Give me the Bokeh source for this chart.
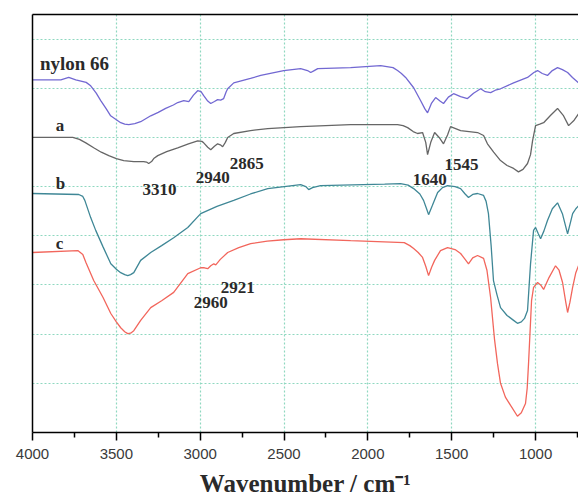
from bokeh.plotting import figure
from bokeh.models import Range1d, FixedTicker, LinearAxis, Label
from bokeh.embed import file_html
from bokeh.resources import INLINE

# ---------------- data ----------------
nylon_wn = [4000, 3831, 3784, 3742, 3680, 3653, 3620, 3593, 3560, 3534, 3500, 3474, 3450, 3426, 3390,
            3355, 3295, 3250, 3206, 3160, 3134, 3098, 3068, 3040, 3015, 2995, 2979, 2955, 2937, 2915,
            2896, 2878, 2860, 2845, 2836, 2800, 2700, 2639, 2502, 2401, 2360, 2341, 2320, 2299, 2200,
            2103, 1924, 1850, 1823, 1800, 1775, 1727, 1686, 1660, 1644, 1620, 1596, 1570, 1549, 1520,
            1489, 1447, 1406, 1370, 1328, 1300, 1268, 1240, 1209, 1131, 1048, 1010, 988, 960, 929,
            900, 869, 840, 809, 780, 744]
nylon_t = [7.17, 7.17, 7.22, 7.17, 7.12, 7.05, 6.90, 6.75, 6.58, 6.44, 6.36, 6.30, 6.27, 6.26, 6.28,
           6.32, 6.44, 6.51, 6.59, 6.66, 6.71, 6.75, 6.73, 6.86, 6.95, 6.93, 6.85, 6.74, 6.69, 6.73,
           6.77, 6.76, 6.79, 6.93, 6.99, 7.11, 7.20, 7.26, 7.36, 7.40, 7.36, 7.32, 7.36, 7.40, 7.41,
           7.42, 7.46, 7.42, 7.36, 7.30, 7.22, 7.01, 6.75, 6.58, 6.50, 6.70, 6.81, 6.74, 6.69, 6.82,
           6.89, 6.83, 6.79, 6.90, 6.99, 6.93, 6.91, 6.96, 6.99, 7.11, 7.22, 7.32, 7.36, 7.30, 7.26,
           7.36, 7.42, 7.38, 7.32, 7.22, 7.11]

a_wn = [4000, 3760, 3720, 3682, 3635, 3590, 3545, 3500, 3456, 3396, 3337, 3320, 3307, 3290, 3277,
        3253, 3200, 3134, 3070, 3015, 2990, 2979, 2955, 2937, 2915, 2896, 2880, 2866, 2850, 2836,
        2800, 2700, 2597, 2401, 2103, 1823, 1790, 1763, 1730, 1704, 1674, 1655, 1644, 1625, 1602,
        1575, 1549, 1525, 1507, 1447, 1346, 1310, 1287, 1250, 1209, 1170, 1131, 1102, 1075, 1048,
        1030, 1018, 1000, 975, 952, 910, 869, 835, 803, 770, 744]
a_t = [6.00, 6.00, 5.96, 5.89, 5.79, 5.70, 5.63, 5.57, 5.53, 5.51, 5.51, 5.50, 5.47, 5.51, 5.57,
       5.63, 5.71, 5.79, 5.87, 5.93, 5.92, 5.89, 5.80, 5.75, 5.82, 5.87, 5.85, 5.81, 5.90, 6.00,
       6.08, 6.14, 6.18, 6.22, 6.26, 6.26, 6.24, 6.20, 6.12, 6.08, 6.10, 5.90, 5.65, 5.90, 6.10,
       6.00, 5.87, 6.05, 6.22, 6.14, 6.10, 6.04, 5.87, 5.70, 5.53, 5.43, 5.37, 5.30, 5.35, 5.47,
       5.65, 5.93, 6.24, 6.27, 6.30, 6.45, 6.59, 6.45, 6.24, 6.35, 6.48]

b_wn = [4000, 3724, 3700, 3688, 3653, 3623, 3580, 3533, 3500, 3474, 3450, 3432, 3415, 3396, 3355,
        3295, 3230, 3158, 3074, 2997, 2900, 2800, 2700, 2597, 2401, 2370, 2353, 2330, 2282, 1900,
        1805, 1760, 1727, 1690, 1668, 1650, 1638, 1615, 1584, 1555, 1525, 1480, 1447, 1420, 1400,
        1375, 1346, 1310, 1295, 1281, 1265, 1251, 1230, 1209, 1170, 1131, 1108, 1085, 1066, 1048,
        1040, 1030, 1012, 1000, 985, 970, 950, 929, 900, 869, 840, 809, 790, 779, 760, 744]
b_t = [4.86, 4.84, 4.80, 4.72, 4.37, 4.11, 3.78, 3.43, 3.32, 3.25, 3.21, 3.19, 3.21, 3.25, 3.50,
       3.66, 3.80, 3.96, 4.17, 4.45, 4.60, 4.72, 4.85, 4.96, 5.04, 5.00, 4.94, 4.98, 5.02, 5.05,
       5.06, 5.03, 4.96, 4.85, 4.72, 4.55, 4.43, 4.62, 4.88, 4.98, 5.02, 5.00, 4.96, 4.85, 4.78,
       4.84, 4.86, 4.82, 4.70, 4.45, 3.80, 3.09, 2.80, 2.54, 2.38, 2.28, 2.22, 2.25, 2.32, 2.48,
       2.90, 3.43, 4.11, 4.17, 4.05, 3.94, 4.10, 4.31, 4.55, 4.67, 4.45, 4.04, 4.30, 4.45, 4.55,
       4.61]

c_wn = [4000, 3730, 3700, 3682, 3635, 3580, 3533, 3500, 3474, 3450, 3432, 3415, 3396, 3355, 3295,
        3230, 3158, 3074, 2997, 2975, 2955, 2937, 2919, 2907, 2880, 2836, 2770, 2699, 2600, 2502,
        2401, 2103, 1783, 1750, 1727, 1700, 1674, 1655, 1638, 1620, 1602, 1567, 1525, 1480, 1447,
        1420, 1400, 1375, 1346, 1310, 1290, 1268, 1245, 1227, 1209, 1180, 1149, 1108, 1085, 1060,
        1050, 1042, 1024, 1012, 988, 970, 952, 920, 881, 860, 839, 820, 809, 795, 779, 760, 744]
c_t = [3.66, 3.70, 3.62, 3.46, 3.09, 2.75, 2.42, 2.25, 2.13, 2.05, 2.01, 2.02, 2.07, 2.28, 2.54,
       2.68, 2.85, 3.23, 3.35, 3.35, 3.33, 3.39, 3.43, 3.41, 3.52, 3.66, 3.76, 3.84, 3.89, 3.92,
       3.94, 3.90, 3.86, 3.80, 3.74, 3.66, 3.56, 3.38, 3.19, 3.36, 3.50, 3.70, 3.76, 3.72, 3.64,
       3.52, 3.43, 3.55, 3.60, 3.54, 3.30, 2.74, 1.90, 1.40, 1.00, 0.72, 0.55, 0.33, 0.40, 0.59,
       0.90, 1.40, 2.68, 2.95, 3.05, 3.00, 2.91, 3.15, 3.39, 3.30, 3.05, 2.65, 2.44, 2.65, 2.95,
       3.25, 3.39]

x_ticks = [4000, 3500, 3000, 2500, 2000, 1500, 1000]
x_minor = [3750, 3250, 2750, 2250, 1750, 1250, 750]
y_grid = [1, 2, 3, 4, 5, 6, 7, 8]
x_title = "Wavenumber / cm\u207b\u00b9"

series_names = ["nylon 66", "a", "b", "c"]
peak_texts = ["3310", "2940", "2865", "1640", "1545", "2921", "2960"]
peak_x = [3344, 3027, 2824, 1733, 1543, 2878, 3039]
peak_y = [4.95, 5.18, 5.48, 5.14, 5.45, 2.95, 2.64]
name_x = [3956, 3861, 3861, 3861]
name_y = [7.50, 6.24, 5.06, 3.84]

# ---------------- figure ----------------
p = figure(width=578, height=502, output_backend="svg", toolbar_location=None,
           x_range=Range1d(4000, 744), y_range=Range1d(0, 8.5),
           x_axis_location=None, y_axis_location=None,
           min_border_left=32, min_border_right=0, min_border_top=14, min_border_bottom=70)
p.outline_line_color = None
p.background_fill_color = "white"
p.border_fill_color = "white"

# bottom axis
xa = LinearAxis(ticker=FixedTicker(ticks=x_ticks, minor_ticks=x_minor))
xa.axis_line_color = "black"
xa.axis_line_width = 1.5
xa.major_tick_line_color = "black"
xa.major_tick_line_width = 1.5
xa.major_tick_out = 8
xa.major_tick_in = 0
xa.minor_tick_line_color = "black"
xa.minor_tick_line_width = 1.5
xa.minor_tick_out = 5
xa.minor_tick_in = 0
xa.major_label_text_font = "Liberation Sans"
xa.major_label_text_font_size = "15px"
xa.major_label_text_color = "#3a3a3a"
xa.major_label_standoff = 8
xa.axis_label = x_title
xa.axis_label_text_font = "Liberation Serif"
xa.axis_label_text_font_style = "bold"
xa.axis_label_text_font_size = "25px"
xa.axis_label_text_color = "#2a2a2a"
xa.axis_label_standoff = 8
p.add_layout(xa, "below")

# left axis (line only)
ya = LinearAxis(ticker=FixedTicker(ticks=[]))
ya.axis_line_color = "black"
ya.axis_line_width = 1.5
ya.major_tick_line_color = None
ya.minor_tick_line_color = None
ya.major_tick_out = 0
ya.major_tick_in = 0
ya.major_label_standoff = 0
p.add_layout(ya, "left")

# top border (line only)
ta = LinearAxis(ticker=FixedTicker(ticks=[]))
ta.axis_line_color = "black"
ta.axis_line_width = 1.5
ta.major_tick_line_color = None
ta.minor_tick_line_color = None
ta.major_tick_out = 0
ta.major_tick_in = 0
ta.major_label_standoff = 0
p.add_layout(ta, "above")

# grid
p.xgrid.ticker = FixedTicker(ticks=x_ticks[1:])
p.ygrid.ticker = FixedTicker(ticks=y_grid)
for g in (p.xgrid, p.ygrid):
    g.grid_line_color = "#8fd8c0"
    g.grid_line_dash = "2 2"
    g.grid_line_width = 1.2

# curves
p.line(nylon_wn, nylon_t, line_color="#7268d2", line_width=1.3)
p.line(a_wn, a_t, line_color="#666666", line_width=1.3)
p.line(b_wn, b_t, line_color="#3f8796", line_width=1.3)
p.line(c_wn, c_t, line_color="#f2665c", line_width=1.3)

# series names
for i, name in enumerate(series_names):
    p.add_layout(Label(x=name_x[i], y=name_y[i], text=name,
                       text_font="Liberation Serif", text_font_style="bold",
                       text_font_size="19px" if i == 0 else "17px",
                       text_color="#2a2a2a", text_baseline="alphabetic", text_align="left"))

# peak labels
for t, xx, yy in zip(peak_texts, peak_x, peak_y):
    p.add_layout(Label(x=xx, y=yy, text=t, text_font="Liberation Serif",
                       text_font_style="bold", text_font_size="17px",
                       text_color="#2a2a2a", text_baseline="alphabetic", text_align="left"))

open("out.html", "w").write(file_html(p, INLINE))
